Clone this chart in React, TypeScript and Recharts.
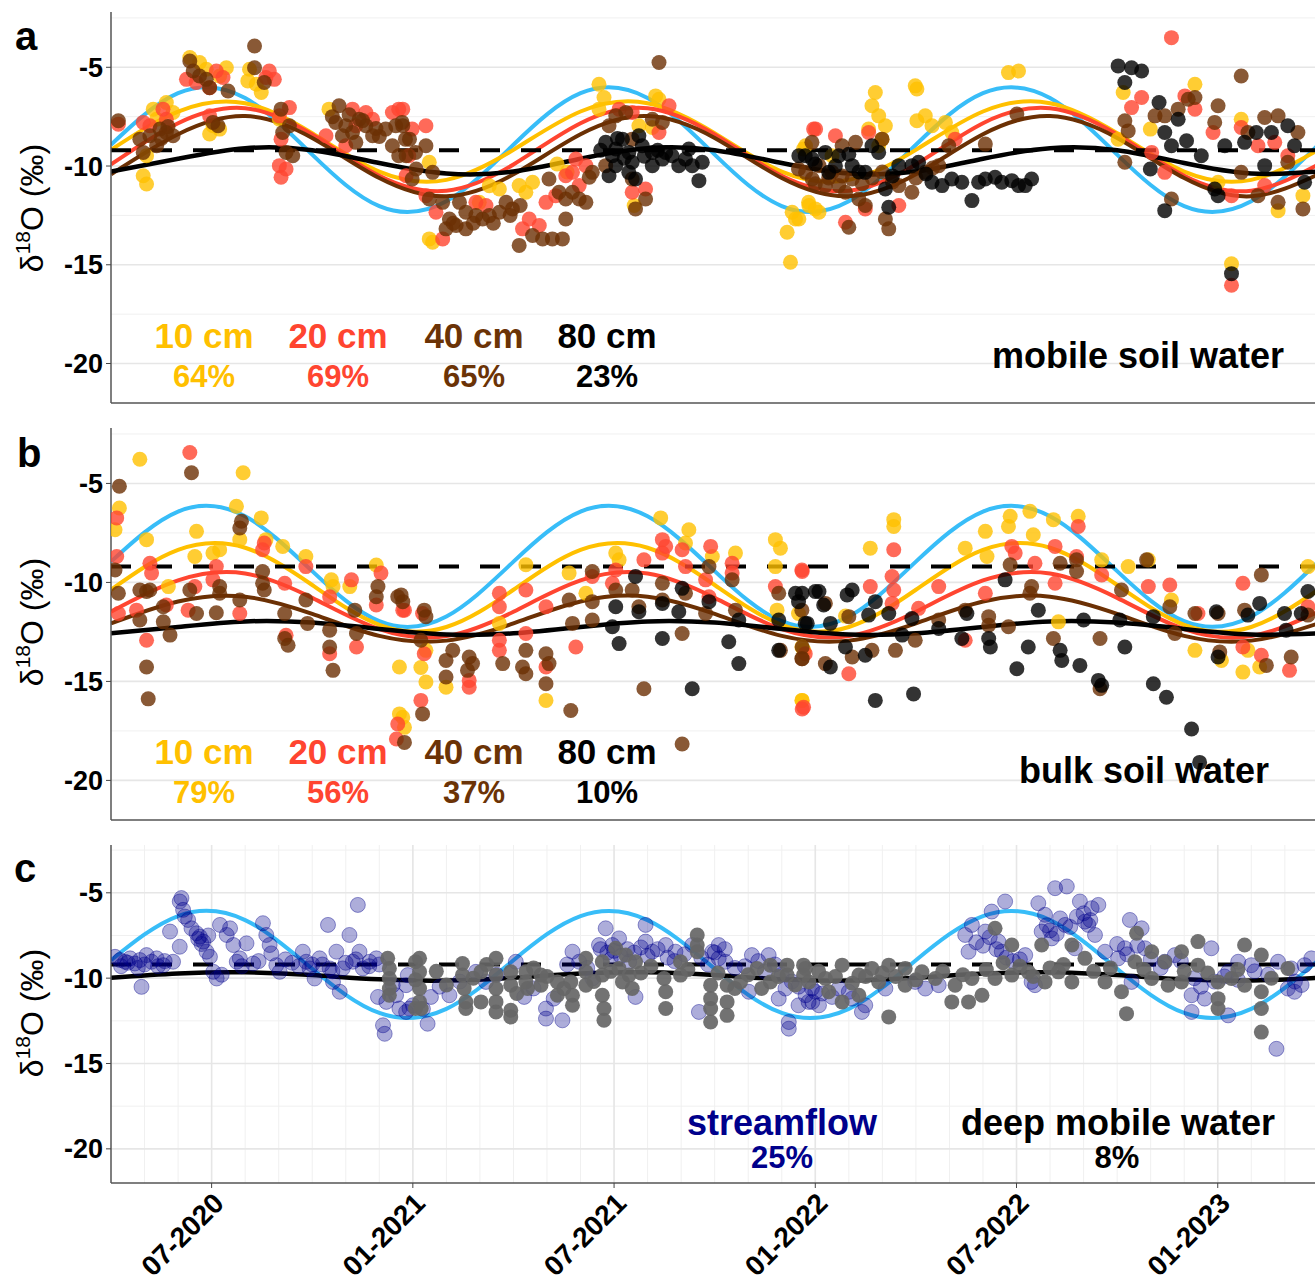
import React from "react";
import { ComposedChart, Scatter, Line, XAxis, YAxis, CartesianGrid } from "recharts";

const FONT = '"Liberation Sans", Arial, Helvetica, sans-serif';

// x = months since 01-2020 (6 = 07-2020), y = d18O in permil
const xTicks = [6, 12, 18, 24, 30, 36];
const xTickLabels = ["07-2020", "01-2021", "07-2021", "01-2022", "07-2022", "01-2023"];
const yTicks = [-5, -10, -15, -20];
const yMinor = [-2.5, -7.5, -12.5, -17.5];
const monthGrid = Array.from({ length: 35 }, (_, i) => i + 4);
const xDomain = [3, 38.9];
const yDomain = [-22, -2.2];

// long-term precipitation mean (dashed)
const dashedLevel = -9.2;

// sampled fitted sine curves (every 2 months)
const curveMonths = [3, 5, 7, 9, 11, 13, 15, 17, 19, 21, 23, 25, 27, 29, 31, 33, 35, 37, 39];
const precipA = [-8.92, -6.31, -6.56, -9.42, -12.03, -11.78, -8.92, -6.31, -6.56, -9.42, -12.03, -11.78, -8.92, -6.31, -6.56, -9.42, -12.03, -11.78, -8.92];
const mobileFit10 = [-9.18, -7.24, -6.82, -8.34, -10.28, -10.7, -9.18, -7.24, -6.82, -8.34, -10.28, -10.7, -9.18, -7.24, -6.82, -8.34, -10.28, -10.7, -9.18];
const mobileFit20 = [-9.92, -7.83, -7.07, -8.4, -10.49, -11.25, -9.92, -7.83, -7.07, -8.4, -10.49, -11.25, -9.92, -7.83, -7.07, -8.4, -10.49, -11.25, -9.92];
const mobileFit40 = [-10.42, -8.39, -7.47, -8.58, -10.61, -11.53, -10.42, -8.39, -7.47, -8.58, -10.61, -11.53, -10.42, -8.39, -7.47, -8.58, -10.61, -11.53, -10.42];
const mobileFit80 = [-10.28, -9.63, -9.1, -9.2, -9.85, -10.38, -10.28, -9.63, -9.1, -9.2, -9.85, -10.38, -10.28, -9.63, -9.1, -9.2, -9.85, -10.38, -10.28];
const precipB = [-8.95, -6.42, -6.66, -9.43, -11.96, -11.72, -8.95, -6.42, -6.66, -9.43, -11.96, -11.72, -8.95, -6.42, -6.66, -9.43, -11.96, -11.72, -8.95];
const bulkFit10 = [-10.37, -8.36, -8.25, -10.13, -12.14, -12.25, -10.37, -8.36, -8.25, -10.13, -12.14, -12.25, -10.37, -8.36, -8.25, -10.13, -12.14, -12.25, -10.37];
const bulkFit20 = [-11.48, -9.9, -9.55, -10.78, -12.36, -12.71, -11.48, -9.9, -9.55, -10.78, -12.36, -12.71, -11.48, -9.9, -9.55, -10.78, -12.36, -12.71, -11.48];
const bulkFit40 = [-12.07, -10.96, -10.72, -11.59, -12.7, -12.94, -12.07, -10.96, -10.72, -11.59, -12.7, -12.94, -12.07, -10.96, -10.72, -11.59, -12.7, -12.94, -12.07];
const bulkFit80 = [-12.57, -12.25, -11.97, -12.03, -12.35, -12.63, -12.57, -12.25, -11.97, -12.03, -12.35, -12.63, -12.57, -12.25, -11.97, -12.03, -12.35, -12.63, -12.57];
const precipC = [-8.95, -6.36, -6.6, -9.45, -12.04, -11.8, -8.95, -6.36, -6.6, -9.45, -12.04, -11.8, -8.95, -6.36, -6.6, -9.45, -12.04, -11.8, -8.95];
const deepFit = [-9.98, -9.73, -9.66, -9.82, -10.07, -10.14, -9.98, -9.73, -9.66, -9.82, -10.07, -10.14, -9.98, -9.73, -9.66, -9.82, -10.07, -10.14, -9.98];

// ---- panel a: mobile soil water [month, d18O]
const mobile10 = [
  [3.96, -10.49], [4.06, -10.91], [4.26, -7.12], [4.65, -6.78], [4.36, -7.63], [4.85, -7.29], [4.06, -9.48], [5.35, -4.51], [5.64, -4.76], [5.84, -5.1],
  [6.44, -5.02], [6.24, -5.44], [6.04, -7.96], [5.94, -8.38], [6.24, -8.13], [7.13, -5.1], [7.08, -5.69], [7.48, -6.28], [7.33, -5.86], [8.02, -7.63], [9.5, -7.12],
  [12.49, -9.81], [12.49, -13.69], [12.59, -13.86], [13.98, -11.84], [14.28, -11.0], [14.58, -11.16], [15.17, -10.99], [15.37, -11.33], [15.57, -10.82], [16.3, -9.9], [16.6, -10.3],
  [17.55, -5.86], [17.7, -6.53], [17.55, -7.12], [18.74, -7.96], [19.14, -8.05], [19.24, -6.45], [19.34, -6.62], [18.6, -12.0],
  [23.16, -13.35], [23.26, -14.87], [23.41, -12.68], [23.31, -12.34], [23.65, -9.14], [23.8, -11.84], [24.0, -12.17],
  [23.51, -12.68], [23.81, -12.0], [24.11, -12.34], [25.79, -6.28], [25.69, -6.95], [25.89, -7.46], [26.09, -7.96], [25.59, -8.13], [26.98, -5.94], [27.03, -6.1],
  [27.03, -7.71], [27.28, -7.46], [27.48, -7.96], [27.88, -7.79], [28.07, -8.3], [29.76, -5.27], [30.06, -5.19], [23.71, -8.97], [24.5, -9.48], [25.89, -8.97], [25.99, -8.64],
  [33.03, -8.64], [33.18, -6.28], [33.99, -8.13], [35.32, -5.86], [36.7, -7.63], [37.8, -12.26], [38.54, -11.5], [36.41, -14.95], [36.01, -10.82],
];
const mobile20 = [
  [3.22, -7.88], [3.96, -7.79], [4.16, -7.96], [4.55, -7.12], [4.65, -7.63], [5.25, -5.61], [5.54, -5.77], [5.94, -6.03], [6.14, -5.19], [6.34, -5.52], [5.94, -7.46],
  [7.72, -5.19], [7.62, -5.52], [7.87, -5.61], [8.32, -7.04], [8.02, -7.46], [8.07, -8.64], [8.02, -9.98], [8.07, -10.57], [8.22, -10.15], [9.41, -8.47],
  [10.2, -7.12], [10.6, -7.29], [10.8, -7.63], [10.0, -8.97], [10.3, -7.96], [11.39, -7.29], [11.58, -7.12], [11.98, -8.13], [11.88, -9.48],
  [11.7, -7.12], [12.39, -7.96], [11.8, -10.49], [12.39, -11.5], [12.69, -12.34], [12.89, -13.69], [13.88, -11.84], [14.18, -12.0], [15.27, -13.18], [15.47, -12.68],
  [15.77, -13.01], [15.97, -11.84], [16.26, -11.5], [16.56, -10.49], [16.76, -10.32], [16.86, -9.65], [17.16, -9.98], [16.96, -10.99], [18.15, -7.12], [18.54, -7.29],
  [19.64, -6.95], [19.34, -8.3], [18.94, -11.16], [18.54, -11.33], [23.95, -8.13],
  [24.01, -8.13], [24.6, -8.47], [25.59, -8.3], [24.9, -12.85], [25.49, -12.17], [26.49, -12.0], [28.17, -8.64], [34.62, -3.5], [33.43, -7.04], [33.73, -6.53],
  [35.02, -6.45], [35.32, -7.12], [35.86, -8.3], [36.41, -16.04], [36.7, -8.05], [37.2, -8.97], [37.7, -8.8], [38.09, -9.48], [34.42, -10.32], [34.03, -9.31], [36.41, -11.5], [37.4, -10.99],
];
const mobile40 = [
  [3.22, -7.71], [3.86, -8.64], [4.16, -8.47], [4.46, -8.13], [4.65, -8.3], [4.85, -8.47], [3.96, -9.31], [4.36, -8.97], [4.5, -8.6], [4.7, -8.0],
  [5.35, -4.68], [5.45, -5.19], [5.64, -5.44], [5.84, -5.61], [5.94, -6.03], [6.49, -6.2], [6.04, -7.79], [6.19, -7.96], [7.28, -3.92], [7.28, -5.02], [7.57, -5.77],
  [8.07, -7.12], [8.32, -7.96], [8.12, -8.3], [8.22, -9.31], [8.42, -9.48], [9.8, -6.95], [9.7, -7.79], [10.0, -7.96], [10.2, -8.3], [10.4, -7.63], [10.6, -7.96],
  [10.8, -8.47], [9.9, -8.47], [10.3, -8.8], [9.6, -7.5], [10.1, -7.4], [10.5, -7.7], [10.9, -8.1], [11.0, -8.5],
  [11.19, -8.13], [11.49, -7.96], [11.68, -7.79], [11.78, -8.64], [11.39, -8.97], [11.58, -9.48], [12.08, -9.31], [11.98, -10.66],
  [11.7, -7.96], [11.9, -8.64], [12.39, -8.97], [11.8, -9.48], [12.1, -10.15], [12.59, -10.32], [12.49, -11.67], [12.89, -11.84], [12.99, -13.18], [13.09, -12.68],
  [13.58, -12.34], [13.39, -11.84], [13.88, -12.51], [14.08, -12.68], [14.28, -12.51], [14.58, -12.34], [14.78, -11.84], [14.97, -12.17], [13.58, -13.18], [13.29, -13.01],
  [13.2, -12.9], [13.8, -12.9], [14.4, -12.9], [14.9, -12.5], [15.2, -12.0],
  [15.17, -14.02], [15.57, -13.52], [15.87, -13.69], [16.16, -13.69], [16.46, -13.69], [16.06, -10.66], [16.36, -11.33], [16.56, -11.67], [16.76, -11.33], [16.96, -11.67],
  [17.16, -11.84], [16.56, -12.68], [17.26, -10.57], [18.05, -7.46], [18.35, -7.29], [17.85, -7.96], [19.34, -4.76], [19.14, -7.63], [19.44, -7.79], [18.54, -8.64],
  [18.94, -11.67], [18.64, -12.17], [18.54, -10.66], [17.75, -9.98], [17.35, -10.32], [23.9, -8.8], [23.5, -10.15],
  [23.71, -10.32], [23.91, -10.66], [24.11, -9.98], [24.3, -10.99], [24.5, -10.32], [24.7, -10.99], [24.9, -11.33], [25.1, -10.66], [25.3, -11.67], [25.49, -12.0],
  [25.0, -13.1], [25.2, -8.8], [24.8, -8.97], [26.09, -12.68], [26.19, -13.18], [25.99, -8.64], [26.49, -10.99], [26.88, -11.33], [27.28, -10.32], [27.68, -9.98],
  [27.98, -8.97], [29.07, -8.89], [30.01, -7.37], [24.0, -10.9], [24.4, -10.6], [24.8, -10.5], [25.4, -10.9], [25.7, -10.6], [26.0, -10.3], [26.3, -10.8], [27.0, -10.6], [27.5, -10.1],
  [33.23, -7.71], [33.33, -8.22], [33.23, -9.81], [34.62, -11.67], [34.13, -7.46], [34.42, -7.46], [34.82, -7.12], [35.12, -6.62], [35.32, -6.53], [36.01, -6.95],
  [36.7, -5.44], [35.91, -7.79], [37.4, -7.54], [37.8, -7.46], [38.09, -9.81], [38.39, -8.3], [37.8, -11.84], [38.54, -12.17], [37.2, -11.5], [36.7, -10.32], [36.9, -8.3],
];
const mobile80 = [
  [17.75, -8.8], [17.95, -9.48], [17.85, -10.49], [18.05, -9.14], [18.25, -8.64], [18.44, -9.31], [18.54, -9.81], [18.74, -8.47], [18.84, -8.97], [18.64, -10.66],
  [19.14, -9.31], [19.44, -9.65], [19.73, -9.48], [19.93, -9.98], [20.13, -9.65], [20.23, -9.14], [20.33, -9.98], [20.53, -10.74], [20.63, -9.81], [19.14, -9.98],
  [19.54, -9.31], [18.44, -10.32], [18.05, -9.98], [18.1, -8.6], [18.3, -9.6], [18.9, -9.5], [19.3, -9.2], [17.6, -9.2], [23.7, -9.48],
  [23.51, -9.48], [23.91, -9.65], [24.3, -9.31], [24.7, -9.48], [25.1, -9.98], [25.49, -10.32], [25.69, -8.97], [25.89, -9.31], [26.09, -11.16], [26.19, -12.09],
  [26.49, -9.98], [26.88, -9.98], [27.08, -9.81], [27.48, -10.82], [27.78, -10.99], [28.07, -10.66], [28.37, -10.82], [28.67, -11.75], [28.87, -10.82], [29.07, -10.66],
  [29.36, -10.57], [29.56, -10.82], [29.86, -10.74], [30.06, -10.99], [30.26, -10.99], [30.45, -10.66], [24.4, -10.32], [25.3, -10.3],
  [24.0, -9.9], [24.6, -10.0], [25.0, -9.4], [26.3, -10.5], [27.3, -10.4],
  [33.03, -4.93], [33.43, -5.02], [33.73, -5.19], [33.23, -5.77], [34.25, -6.78], [34.42, -8.3], [34.62, -8.97], [34.82, -7.63], [35.07, -8.72], [33.99, -10.15],
  [34.42, -12.26], [35.51, -9.48], [35.91, -11.16], [36.01, -11.5], [36.21, -8.97], [36.41, -15.45], [36.8, -8.8], [37.15, -8.3], [37.6, -8.3], [37.4, -9.98],
  [38.09, -7.96], [38.29, -8.97], [38.59, -10.82],
];

// ---- panel b: bulk soil water
const bulk10 = [
  [3.12, -7.34], [3.25, -6.24], [3.86, -3.78], [4.06, -7.84], [4.71, -10.21], [5.55, -7.42], [5.5, -8.69], [6.04, -8.52], [6.24, -8.35], [6.74, -6.15], [6.94, -4.46],
  [6.84, -7.84], [7.48, -6.74], [7.62, -7.84], [8.12, -8.18], [8.81, -8.69], [9.57, -9.87], [9.62, -10.21], [10.12, -10.21], [10.91, -9.12], [11.6, -14.27], [11.6, -16.64], [11.75, -17.32],
  [11.7, -16.81], [12.39, -13.43], [12.39, -15.03], [12.99, -15.29], [12.24, -14.3], [14.58, -12.07], [15.37, -9.11], [15.97, -15.96], [16.66, -9.53], [17.16, -10.55],
  [18.05, -8.52], [18.15, -8.86], [19.39, -6.74], [20.23, -7.34], [20.13, -8.01], [20.93, -8.69], [21.62, -8.52], [22.81, -7.84], [22.96, -8.27], [22.81, -9.2],
  [22.86, -11.4], [23.6, -15.96], [23.5, -11.57], [23.6, -13.26],
  [23.61, -15.96], [23.66, -13.43], [24.9, -11.7], [25.64, -8.27], [26.34, -6.83], [26.34, -7.17], [28.47, -8.27], [29.07, -7.42], [29.12, -8.69], [29.81, -6.66],
  [29.76, -7.17], [30.4, -6.41], [30.5, -7.59], [31.1, -6.83], [31.84, -6.66], [32.54, -8.86], [33.33, -9.2], [33.93, -8.86], [34.62, -10.89], [35.32, -13.43],
  [36.11, -13.94], [36.75, -14.53], [37.25, -14.27], [36.9, -13.43], [38.69, -9.2], [31.25, -11.99],
];
const bulk20 = [
  [3.17, -6.74], [3.17, -8.69], [3.22, -11.57], [3.76, -11.4], [4.06, -12.92], [4.16, -9.03], [4.21, -9.53], [4.65, -11.14], [5.35, -3.44], [5.3, -11.4], [5.5, -10.21],
  [6.14, -9.2], [6.04, -9.87], [6.84, -11.57], [7.57, -8.01], [7.52, -8.35], [8.18, -10.04], [8.22, -12.67], [8.81, -9.2], [9.52, -10.72], [9.52, -13.6],
  [10.17, -9.87], [10.32, -13.26], [11.05, -9.53], [10.91, -11.14], [11.75, -11.4], [11.55, -17.15], [11.51, -17.91],
  [11.7, -11.4], [12.29, -11.57], [12.24, -15.96], [12.34, -13.6], [13.68, -15.29], [13.68, -14.95], [14.58, -10.55], [14.58, -11.23], [14.58, -12.92], [14.58, -13.43],
  [15.37, -10.38], [15.37, -12.58], [15.97, -11.23], [15.97, -14.27], [16.86, -13.26], [17.35, -9.7], [18.05, -9.37], [17.95, -10.04], [18.89, -8.86], [19.44, -7.84],
  [19.44, -8.52], [19.54, -8.18], [20.03, -8.35], [20.13, -9.2], [20.88, -8.18], [20.73, -9.87], [20.83, -10.72], [21.52, -9.03], [21.52, -9.53], [22.81, -10.21],
  [23.6, -9.37], [23.65, -16.3], [23.7, -13.6],
  [23.61, -9.45], [23.61, -16.39], [25.0, -14.61], [25.64, -10.21], [26.34, -8.35], [26.29, -9.7], [26.34, -10.38], [26.29, -11.06], [27.08, -11.31], [27.68, -10.21],
  [28.47, -12.92], [29.07, -10.55], [29.86, -8.18], [29.96, -8.52], [30.55, -9.03], [31.15, -8.18], [31.15, -10.04], [31.84, -7.17], [31.79, -8.69], [32.54, -9.62],
  [33.93, -10.21], [34.57, -10.13], [35.41, -11.57], [36.75, -10.04], [36.75, -13.26], [37.3, -13.68], [38.14, -14.44], [38.69, -11.23],
];
const bulk40 = [
  [3.25, -5.14], [3.12, -9.37], [3.22, -10.55], [3.86, -10.38], [4.06, -10.46], [4.16, -10.38], [3.86, -11.9], [4.56, -11.23], [4.56, -11.99], [4.76, -12.66],
  [4.06, -14.27], [4.11, -15.88], [5.4, -4.46], [5.35, -10.38], [5.55, -11.57], [6.14, -11.53], [6.24, -10.21], [6.24, -10.55], [6.84, -10.89], [6.89, -6.91],
  [6.84, -7.25], [7.52, -9.45], [7.52, -10.04], [7.57, -10.38], [8.18, -11.57], [8.18, -12.83], [8.28, -13.17], [8.81, -10.89], [8.86, -12.07], [9.52, -12.41],
  [9.52, -13.26], [9.62, -14.44], [10.27, -11.4], [10.32, -12.58], [10.96, -10.21], [10.91, -10.72], [11.55, -10.72], [11.7, -10.97], [11.75, -18.08],
  [11.65, -10.63], [12.34, -11.4], [12.39, -11.73], [12.29, -16.64], [12.24, -12.92], [12.99, -13.94], [12.99, -14.78], [13.19, -13.43], [13.68, -13.77], [13.78, -14.1],
  [13.63, -14.44], [14.68, -14.1], [15.37, -13.43], [15.27, -14.27], [15.37, -14.61], [15.97, -13.6], [16.06, -14.1], [15.97, -15.12], [16.76, -12.07], [16.71, -16.47],
  [16.66, -10.89], [17.35, -9.45], [17.35, -10.97], [17.35, -11.9], [18.05, -10.38], [18.54, -10.38], [18.74, -11.23], [18.89, -15.37], [19.44, -10.04], [19.44, -10.89],
  [20.13, -10.55], [20.03, -12.58], [20.03, -18.16], [20.83, -9.2], [20.73, -11.57], [21.52, -9.87], [21.62, -11.4], [22.91, -10.55], [22.96, -13.43], [23.6, -13.85], [23.6, -11.4],
  [23.61, -13.26], [23.61, -13.85], [24.3, -11.06], [24.3, -14.1], [25.0, -11.73], [25.1, -13.77], [25.69, -13.43], [26.39, -13.43], [26.98, -12.92], [27.68, -11.9],
  [28.47, -11.4], [29.17, -11.73], [29.17, -12.16], [29.76, -12.24], [29.81, -9.11], [30.45, -10.21], [30.4, -10.55], [31.3, -9.03], [31.79, -8.86], [31.79, -9.45],
  [31.1, -12.83], [32.49, -12.83], [32.49, -15.37], [33.13, -10.38], [33.88, -8.86], [34.57, -11.23], [34.72, -12.58], [35.32, -11.57], [36.06, -13.51], [36.01, -11.57],
  [36.8, -11.4], [37.3, -9.62], [37.45, -14.19], [38.19, -13.77], [38.69, -11.65],
];
const bulk80 = [
  [17.95, -12.24], [18.15, -13.09], [18.05, -11.23], [18.64, -9.7], [18.74, -11.48], [19.44, -11.06], [19.44, -12.83], [20.03, -10.3], [19.93, -11.48], [20.33, -15.37],
  [20.83, -10.97], [21.42, -13.0], [21.72, -11.9], [21.72, -14.1], [22.91, -11.9], [22.91, -13.43], [23.41, -10.55], [23.5, -10.97], [23.7, -12.07], [24.0, -10.46],
  [23.61, -10.55], [23.76, -12.07], [24.11, -10.46], [24.25, -11.14], [24.45, -12.07], [24.45, -14.27], [24.9, -13.26], [24.95, -10.63], [25.1, -10.38], [25.49, -13.68],
  [25.59, -11.65], [25.79, -10.97], [25.79, -15.96], [26.19, -11.57], [26.59, -12.66], [26.88, -11.82], [26.93, -15.63], [27.68, -12.33], [28.37, -12.83], [28.52, -11.57],
  [29.17, -12.83], [29.22, -13.26], [29.66, -9.87], [30.01, -14.36], [30.35, -13.26], [30.65, -11.4], [31.3, -13.43], [31.35, -13.94], [31.89, -14.19], [32.0, -11.9],
  [32.44, -14.95], [32.54, -15.2], [33.08, -11.9], [33.23, -13.26], [34.08, -11.73], [34.08, -15.12], [34.47, -15.8], [35.22, -17.4], [35.46, -19.09], [35.96, -11.48],
  [36.01, -13.77], [36.9, -11.65], [37.25, -11.06], [37.99, -11.57], [38.04, -12.41], [38.49, -11.57], [38.69, -10.46],
];

// ---- panel c: streamflow and deep mobile water
const streamflow = [
  [3.12, -8.75], [3.27, -8.94], [3.42, -9.04], [3.57, -8.84], [3.71, -9.14], [3.86, -8.94], [3.91, -10.51], [4.06, -8.65], [4.21, -9.04], [4.36, -8.84], [4.56, -9.24],
  [4.76, -7.27], [4.85, -9.04], [5.05, -8.16], [5.1, -5.31], [5.05, -5.51], [5.15, -6.0], [5.2, -6.39], [5.3, -6.59], [5.4, -7.08], [5.55, -7.37], [5.65, -7.57],
  [5.75, -7.86], [5.85, -8.45], [5.95, -8.75], [6.05, -9.63], [6.15, -10.02], [6.25, -6.88], [6.45, -7.47], [6.55, -7.08], [6.65, -8.06], [6.75, -9.04], [6.84, -8.84],
  [7.04, -7.96], [7.24, -9.14], [7.53, -6.78], [7.63, -7.47], [7.73, -8.06], [7.78, -8.55], [7.93, -9.24], [8.03, -9.63], [8.72, -8.45], [8.82, -9.04], [8.92, -9.43],
  [9.07, -10.02], [9.22, -8.84], [9.47, -6.88], [9.52, -9.43], [9.62, -10.22], [9.72, -8.45], [9.82, -10.8], [9.91, -9.43], [10.11, -7.47], [10.21, -9.04], [10.36, -5.71],
  [10.41, -8.45], [10.51, -9.43], [10.71, -9.04], [10.91, -8.84], [10.96, -11.1], [11.11, -12.76], [11.16, -13.26], [11.21, -11.39], [11.4, -10.41], [11.6, -11.78],
  [11.8, -11.98], [12.0, -11.59], [11.85, -9.82], [3.3, -9.3], [3.8, -9.4], [4.4, -9.3], [8.4, -9.1], [9.0, -9.2], [10.0, -9.1],
  [3.5, -9.1], [4.0, -9.2], [4.6, -9.0], [5.6, -7.7], [5.7, -8.0], [5.9, -7.5], [6.3, -9.8], [6.9, -9.3], [7.4, -9.0], [8.2, -8.9], [8.6, -9.3], [9.3, -9.2],
  [9.6, -9.6], [10.3, -8.9], [10.7, -9.3], [11.0, -9.2], [11.5, -11.0], [12.3, -11.8], [12.8, -10.5], [13.4, -10.2], [14.5, -9.8], [15.6, -10.6], [16.2, -11.2],
  [16.6, -9.2], [17.2, -9.4],
  [11.8, -10.41], [11.9, -11.78], [12.44, -12.67], [12.54, -11.1], [13.09, -11.0], [13.88, -9.63], [14.18, -10.22], [15.07, -9.04], [15.32, -11.1], [15.97, -11.78],
  [15.97, -12.37], [16.46, -12.47], [16.76, -8.45], [16.96, -9.04], [17.35, -10.02], [17.55, -8.06], [17.75, -7.08], [17.95, -8.06], [18.15, -7.67], [18.45, -9.04],
  [18.64, -11.1], [18.94, -6.88], [18.94, -7.86], [19.14, -8.45], [19.54, -8.06], [19.83, -8.45], [20.33, -8.06], [20.53, -11.98], [20.93, -8.45], [21.12, -8.84],
  [21.12, -8.06], [21.32, -9.04], [22.11, -8.65], [22.02, -10.8], [22.61, -8.65], [22.91, -11.2], [23.11, -10.61], [23.21, -12.57], [23.21, -12.96], [23.5, -11.59],
  [23.8, -11.39], [24.0, -10.8],
  [17.6, -8.3], [17.8, -8.5], [17.9, -8.9], [18.0, -8.4], [18.2, -8.7], [18.4, -8.3], [18.6, -8.5], [18.8, -8.2], [19.0, -8.7], [19.3, -8.3], [19.6, -8.8],
  [19.8, -9.0], [20.1, -8.6], [20.6, -8.8], [20.8, -9.2], [21.0, -8.5], [21.3, -8.3], [21.6, -9.4], [21.9, -9.3], [22.3, -9.0], [22.5, -9.6], [22.8, -9.2],
  [23.0, -9.8], [23.3, -10.2], [23.5, -10.5], [23.9, -10.6], [24.2, -10.9], [24.5, -11.1], [24.7, -10.6], [25.0, -10.8],
  [23.71, -11.0], [23.91, -11.39], [24.11, -11.59], [25.1, -11.2], [25.39, -11.98], [25.49, -11.59], [26.09, -10.61], [26.98, -10.22], [27.28, -10.61], [27.68, -10.41],
  [28.47, -7.47], [28.57, -8.45], [28.67, -6.88], [29.07, -7.27], [29.26, -6.1], [29.46, -7.86], [29.56, -8.45], [29.66, -5.51], [30.26, -8.65], [30.45, -10.22],
  [30.55, -10.41], [30.65, -5.61], [30.75, -7.27], [30.85, -6.29], [31.05, -7.67], [31.15, -4.73], [31.5, -4.63], [31.45, -6.88], [31.74, -8.25], [31.89, -5.51],
  [32.04, -6.69], [32.24, -5.9], [32.44, -5.71], [32.14, -6.88], [32.34, -7.47], [32.64, -8.45], [33.03, -8.84], [33.23, -8.25], [33.38, -6.59], [33.73, -7.08],
  [33.83, -8.25], [34.42, -9.04], [34.72, -8.65], [35.22, -11.0], [35.22, -11.98], [35.61, -11.2], [35.81, -8.25], [36.31, -9.63], [36.31, -12.18], [36.61, -9.04],
  [37.0, -9.24], [37.8, -9.04], [37.75, -14.14], [38.09, -10.61], [38.29, -10.8], [38.59, -9.24], [38.79, -8.84], [38.19, -9.43], [33.43, -10.22],
  [28.8, -7.9], [29.0, -8.1], [29.2, -7.6], [29.4, -8.3], [29.7, -8.8], [29.9, -9.0], [30.1, -8.9], [30.9, -6.9], [31.0, -7.2], [31.2, -7.4], [31.3, -6.5],
  [31.6, -7.0], [31.8, -6.4], [32.0, -6.2], [32.2, -6.6], [33.0, -8.0], [33.3, -8.6], [33.6, -8.1], [34.0, -8.9], [34.3, -9.4], [34.9, -9.0], [35.3, -10.0],
  [35.5, -10.5], [35.9, -10.2], [36.2, -9.9], [36.6, -10.1], [37.1, -9.6], [37.5, -9.8], [38.3, -10.2], [38.5, -10.4],
];
const deepMobile = [
  [11.25, -8.84], [11.3, -9.43], [11.3, -10.02], [11.3, -10.61], [11.3, -11.0], [12.08, -9.04], [12.08, -10.1], [12.08, -11.78],
  [12.2, -8.84], [12.2, -9.63], [12.2, -10.61], [12.2, -11.39], [12.25, -11.78], [13.48, -9.14], [13.48, -9.82], [13.53, -10.61], [13.58, -11.39], [13.58, -11.78],
  [14.03, -9.63], [14.03, -11.39], [14.48, -8.84], [14.48, -9.82], [14.48, -10.61], [14.48, -11.39], [14.48, -11.98], [14.92, -9.63], [14.92, -10.41], [14.92, -11.88],
  [14.92, -12.27], [15.37, -9.63], [15.37, -10.22], [15.42, -10.61], [15.82, -9.82], [15.82, -10.41], [16.31, -11.0], [16.31, -10.22], [16.76, -11.0], [16.76, -11.59],
  [16.71, -10.22], [17.16, -8.84], [17.16, -9.63], [17.16, -10.41], [17.65, -9.04], [17.65, -9.82], [17.65, -11.0], [17.7, -11.78], [17.7, -12.47], [18.05, -8.25],
  [18.15, -9.43], [18.35, -8.65], [18.45, -9.82], [18.54, -10.61], [18.25, -10.22], [18.64, -9.04], [19.49, -10.02], [19.54, -10.8], [19.54, -11.78], [19.98, -9.04],
  [19.98, -9.82], [20.48, -7.47], [20.48, -8.06], [20.48, -8.45], [20.88, -10.41], [20.88, -11.2], [20.88, -11.78], [20.88, -12.57], [21.37, -10.41], [21.37, -11.39],
  [21.37, -12.18], [21.77, -10.22], [22.26, -9.43], [22.66, -9.24], [22.66, -10.22], [23.16, -9.24], [23.16, -9.82], [23.65, -9.24], [23.65, -9.82],
  [12.7, -9.6], [13.0, -10.4], [13.8, -10.0], [14.2, -9.2], [15.1, -10.9], [15.6, -9.4], [16.0, -9.9], [16.5, -10.6], [17.4, -10.2], [17.9, -9.6], [18.8, -9.7],
  [19.1, -9.3], [20.2, -9.5], [21.1, -9.7], [21.6, -10.6], [22.0, -9.8], [22.4, -10.6], [22.9, -9.9], [23.4, -10.4],
  [23.71, -9.43], [23.81, -10.22], [24.3, -10.02], [24.4, -10.8], [24.8, -9.24], [24.8, -11.39], [25.3, -11.0], [25.3, -9.82], [25.69, -9.43], [25.89, -10.22],
  [26.19, -9.24], [26.19, -12.27], [26.68, -9.43], [26.68, -10.41], [27.18, -9.63], [27.58, -10.02], [28.07, -11.39], [28.17, -10.41], [28.57, -11.39], [28.67, -10.02],
  [28.97, -11.0], [29.36, -7.08], [29.36, -10.02], [29.86, -8.06], [29.86, -9.82], [30.35, -9.63], [30.75, -8.06], [30.85, -10.22], [31.25, -9.63], [31.65, -8.06],
  [31.65, -10.22], [32.04, -8.84], [32.64, -10.22], [33.13, -10.8], [33.28, -12.08], [33.58, -7.37], [33.53, -9.04], [34.03, -8.45], [34.03, -10.02], [34.42, -9.04],
  [34.52, -10.41], [34.92, -8.45], [34.92, -10.22], [35.41, -7.86], [35.41, -9.24], [36.01, -10.22], [36.01, -11.78], [36.01, -11.2], [36.41, -10.02], [36.8, -8.06],
  [36.8, -10.41], [37.3, -8.65], [37.3, -10.8], [37.3, -11.78], [37.3, -13.16], [38.09, -9.43],
  [24.1, -9.6], [24.6, -9.9], [25.1, -10.3], [25.5, -9.9], [26.0, -9.7], [26.4, -9.9], [27.0, -10.1], [27.8, -9.6], [28.4, -9.8], [29.1, -9.5], [29.6, -9.1],
  [30.1, -9.3], [30.5, -9.9], [31.0, -9.4], [31.4, -9.2], [32.3, -9.6], [32.8, -9.4], [33.8, -9.5], [35.0, -9.6], [35.7, -9.7], [36.6, -9.5], [37.6, -10.0],
];

const C10 = "#FFC000";
const C20 = "#FF4530";
const C40 = "#6B3004";
const C80 = "#000000";
const PRECIP = "#38BDF8";
const STREAM = "#00008B";
const DEEP = "#666666";

const toRows = (pts: number[][]) => pts.map(([m, v]) => ({ m, v }));
const curveRows = (vals: number[]) => curveMonths.map((m, i) => ({ m, v: vals[i] }));
const dashedRows = [
  { m: xDomain[0], v: dashedLevel },
  { m: xDomain[1], v: dashedLevel },
];

type PointSeries = { name: string; pts: number[][]; color: string; opacity: number; ring?: boolean };
type Curve = { name: string; vals: number[]; color: string; width: number };

const XTick = (props: any) => {
  const { x, y, payload } = props;
  const label = xTickLabels[xTicks.indexOf(payload.value)];
  const ax = x + 14;
  const ay = y + 15;
  return (
    <text x={ax} y={ay} transform={`rotate(-45 ${ax} ${ay})`} textAnchor="end" fontFamily={FONT} fontSize={28} fontWeight={700} fill="#000">
      {label}
    </text>
  );
};

function Panel({ top, height, bottom, series, curves }: { top: number; height: number; bottom: boolean; series: PointSeries[]; curves: Curve[] }) {
  return (
    <div style={{ position: "absolute", left: 0, top }}>
      <ComposedChart width={1315} height={height} margin={{ top: 12, right: 0, bottom: 0, left: 0 }}>
        <CartesianGrid horizontalValues={yMinor} verticalValues={monthGrid} stroke="#F0F0F0" strokeWidth={1} />
        <CartesianGrid horizontalValues={yTicks} verticalValues={xTicks} stroke="#E6E6E6" strokeWidth={1.6} />
        <XAxis
          dataKey="m"
          type="number"
          domain={xDomain}
          ticks={xTicks}
          allowDataOverflow
          height={bottom ? 99 : 7}
          tick={bottom ? <XTick /> : false}
          tickSize={5}
          tickLine={{ stroke: "#444" }}
          axisLine={{ stroke: "#555", strokeWidth: 1.5 }}
        />
        <XAxis xAxisId="top" orientation="top" type="number" domain={xDomain} height={0} tick={false} tickLine={false} axisLine={{ stroke: "#555", strokeWidth: 1.5 }} />
        <YAxis
          dataKey="v"
          type="number"
          domain={yDomain}
          ticks={yTicks}
          allowDataOverflow
          width={111}
          tickSize={5}
          tickMargin={3}
          tick={{ fill: "#000", fontSize: 27, fontWeight: 700, fontFamily: FONT }}
          tickLine={{ stroke: "#444" }}
          axisLine={{ stroke: "#555", strokeWidth: 1.5 }}
        />
        {series.map((s) => (
          <Scatter
            key={s.name}
            name={s.name}
            data={toRows(s.pts)}
            dataKey="v"
            isAnimationActive={false}
            shape={(p: any) => (
              <circle
                cx={p.cx}
                cy={p.cy}
                r={7.5}
                fill={s.color}
                fillOpacity={s.opacity}
                stroke={s.ring ? s.color : "none"}
                strokeOpacity={s.ring ? 0.4 : 0}
                strokeWidth={1}
              />
            )}
          />
        ))}
        {curves.map((c) => (
          <Line
            key={c.name}
            data={curveRows(c.vals)}
            dataKey="v"
            type="natural"
            stroke={c.color}
            strokeWidth={c.width}
            dot={false}
            activeDot={false}
            isAnimationActive={false}
          />
        ))}
        <Line data={dashedRows} dataKey="v" stroke="#000" strokeWidth={4} strokeDasharray="20 21" dot={false} activeDot={false} isAnimationActive={false} />
      </ComposedChart>
    </div>
  );
}

const seriesA: PointSeries[] = [
  { name: "10 cm", pts: mobile10, color: C10, opacity: 0.8 },
  { name: "20 cm", pts: mobile20, color: C20, opacity: 0.8 },
  { name: "40 cm", pts: mobile40, color: C40, opacity: 0.8 },
  { name: "80 cm", pts: mobile80, color: C80, opacity: 0.8 },
];
const curvesA: Curve[] = [
  { name: "precip", vals: precipA, color: PRECIP, width: 4 },
  { name: "fit10", vals: mobileFit10, color: C10, width: 4 },
  { name: "fit20", vals: mobileFit20, color: C20, width: 4 },
  { name: "fit40", vals: mobileFit40, color: C40, width: 4 },
  { name: "fit80", vals: mobileFit80, color: C80, width: 4.5 },
];
const seriesB: PointSeries[] = [
  { name: "10 cm", pts: bulk10, color: C10, opacity: 0.8 },
  { name: "20 cm", pts: bulk20, color: C20, opacity: 0.8 },
  { name: "40 cm", pts: bulk40, color: C40, opacity: 0.8 },
  { name: "80 cm", pts: bulk80, color: C80, opacity: 0.8 },
];
const curvesB: Curve[] = [
  { name: "precip", vals: precipB, color: PRECIP, width: 4 },
  { name: "fit10", vals: bulkFit10, color: C10, width: 4 },
  { name: "fit20", vals: bulkFit20, color: C20, width: 4 },
  { name: "fit40", vals: bulkFit40, color: C40, width: 4 },
  { name: "fit80", vals: bulkFit80, color: C80, width: 4.5 },
];
const seriesC: PointSeries[] = [
  { name: "streamflow", pts: streamflow, color: STREAM, opacity: 0.32, ring: true },
  { name: "deep mobile water", pts: deepMobile, color: DEEP, opacity: 0.92 },
];
const curvesC: Curve[] = [
  { name: "precip", vals: precipC, color: PRECIP, width: 4 },
  { name: "deep", vals: deepFit, color: C80, width: 4.5 },
];

const txt = { fontFamily: FONT, fontWeight: 700 };

function YTitle({ cy }: { cy: number }) {
  return (
    <text x={43} y={cy} transform={`rotate(-90 43 ${cy})`} textAnchor="middle" fontFamily={FONT} fontSize={32} fill="#000">
      δ<tspan fontSize={21} dy={-13}>18</tspan>
      <tspan dy={13}>O (‰)</tspan>
    </text>
  );
}

function DepthLabels({ dy, pct }: { dy: number; pct: string[] }) {
  const cols = [
    { x: 204, c: C10, t: "10 cm" },
    { x: 338, c: C20, t: "20 cm" },
    { x: 474, c: "#6B3306", t: "40 cm" },
    { x: 607, c: "#000", t: "80 cm" },
  ];
  return (
    <g>
      {cols.map((k, i) => (
        <g key={k.t}>
          <text x={k.x} y={348 + dy} textAnchor="middle" fontSize={35} fill={k.c} {...txt}>{k.t}</text>
          <text x={k.x} y={387 + dy} textAnchor="middle" fontSize={31} fill={k.c} {...txt}>{pct[i]}</text>
        </g>
      ))}
    </g>
  );
}

export default function App() {
  return (
    <div style={{ position: "absolute", left: 0, top: 0, width: 1315, height: 1282, background: "#fff", overflow: "hidden" }}>
      <Panel top={0} height={410} bottom={false} series={seriesA} curves={curvesA} />
      <Panel top={416} height={411} bottom={false} series={seriesB} curves={curvesB} />
      <Panel top={833} height={449} bottom={true} series={seriesC} curves={curvesC} />
      <svg width={1315} height={1282} style={{ position: "absolute", left: 0, top: 0, pointerEvents: "none" }}>
        <text x={15} y={50} fontSize={40} fill="#000" {...txt}>a</text>
        <text x={17} y={467} fontSize={40} fill="#000" {...txt}>b</text>
        <text x={14} y={882} fontSize={40} fill="#000" {...txt}>c</text>
        <YTitle cy={208} />
        <YTitle cy={622} />
        <YTitle cy={1013} />
        <DepthLabels dy={0} pct={["64%", "69%", "65%", "23%"]} />
        <DepthLabels dy={416} pct={["79%", "56%", "37%", "10%"]} />
        <text x={1138} y={368} textAnchor="middle" fontSize={36} fill="#000" {...txt}>mobile soil water</text>
        <text x={1144} y={783} textAnchor="middle" fontSize={36} fill="#000" {...txt}>bulk soil water</text>
        <text x={782} y={1135} textAnchor="middle" fontSize={36} fill={STREAM} {...txt}>streamflow</text>
        <text x={782} y={1168} textAnchor="middle" fontSize={31} fill={STREAM} {...txt}>25%</text>
        <text x={1118} y={1135} textAnchor="middle" fontSize={36} fill="#000" {...txt}>deep mobile water</text>
        <text x={1117} y={1168} textAnchor="middle" fontSize={31} fill="#000" {...txt}>8%</text>
      </svg>
    </div>
  );
}
